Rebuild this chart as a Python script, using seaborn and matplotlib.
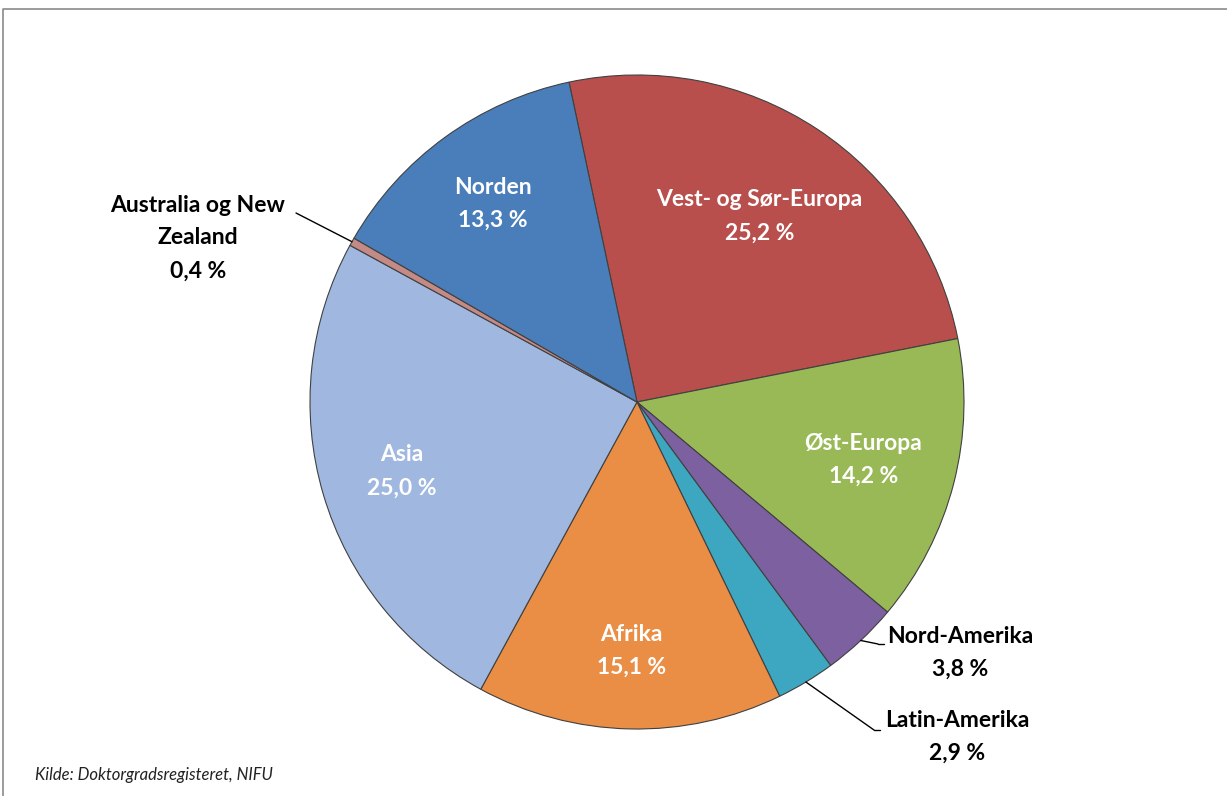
import numpy as np
import matplotlib
matplotlib.use("Agg")
import matplotlib.pyplot as plt
import seaborn as sns

# Regions and shares (percent) in clockwise order from the top
regions = ['Vest- og Sør-Europa', 'Øst-Europa', 'Nord-Amerika', 'Latin-Amerika',
           'Afrika', 'Asia', 'Australia og New\nZealand', 'Norden']
shares = [25.2, 14.2, 3.8, 2.9, 15.1, 25.0, 0.4, 13.3]
share_labels = ['25,2 %', '14,2 %', '3,8 %', '2,9 %', '15,1 %', '25,0 %', '0,4 %', '13,3 %']
colors = ['#B84F4C', '#98B955', '#7D60A0', '#3DA6C1', '#EA8E45', '#A0B8E0', '#C48A86', '#4A7EBB']
inside = [True, True, False, False, True, True, False, True]
# radial position of the inside labels (fraction of radius)
label_r = [0.68, 0.715, 0, 0, 0.76, 0.75, 0, 0.75]

sns.set_theme(style='white')
plt.rcParams['font.family'] = ['Lato', 'DejaVu Sans']

W, H = 1227, 796
fig = plt.figure(figsize=(W / 100, H / 100), dpi=100)
ax = fig.add_axes([0, 0, 1, 1])

cx, cy, R = 637, H - 402, 327
wedges, _ = ax.pie(shares, colors=colors, startangle=102, counterclock=False,
                   center=(cx, cy), radius=R,
                   wedgeprops=dict(edgecolor='#404040', linewidth=0.8))
ax.set_xlim(0, W)
ax.set_ylim(0, H)
ax.set_aspect('equal')
ax.axis('off')

fs = 16.5
# inside labels
for w, name, lab, ins, rf in zip(wedges, regions, share_labels, inside, label_r):
    if not ins:
        continue
    mid = np.deg2rad((w.theta1 + w.theta2) / 2)
    r = rf * R
    ax.text(cx + r * np.cos(mid), cy + r * np.sin(mid), f'{name}\n{lab}',
            ha='center', va='center', color='white', fontsize=fs,
            fontweight='bold', linespacing=1.7)

# outside labels with leader lines
outside_pos = {
    'Australia og New\nZealand': (198, H - 238),
    'Nord-Amerika': (960, H - 653),
    'Latin-Amerika': (957, H - 737),
}
line_end = {
    'Australia og New\nZealand': (296, H - 213),
    'Nord-Amerika': (878, H - 644),
    'Latin-Amerika': (874, H - 730),
}
for w, name, lab, ins in zip(wedges, regions, share_labels, inside):
    if ins:
        continue
    mid = np.deg2rad((w.theta1 + w.theta2) / 2)
    ex, ey = cx + R * np.cos(mid), cy + R * np.sin(mid)
    lx, ly = line_end[name]
    ax.plot([ex, lx], [ey, ly], color='black', lw=1)
    if name in ('Nord-Amerika', 'Latin-Amerika'):
        ax.plot([lx, lx + 6], [ly, ly], color='black', lw=1)
    tx, ty = outside_pos[name]
    ax.text(tx, ty, f'{name}\n{lab}', ha='center', va='center', color='black',
            fontsize=fs, fontweight='bold', linespacing=1.7)

ax.text(35, H - 775, 'Kilde: Doktorgradsregisteret, NIFU', ha='left', va='center',
        fontsize=12, fontstyle='italic', color='#222222')

# chart frame
ax.plot([3, 3, W + 5], [-5, H - 9, H - 9], color='#8a8a8a', lw=1.2, clip_on=False)

fig.savefig('out.png', dpi=100)
